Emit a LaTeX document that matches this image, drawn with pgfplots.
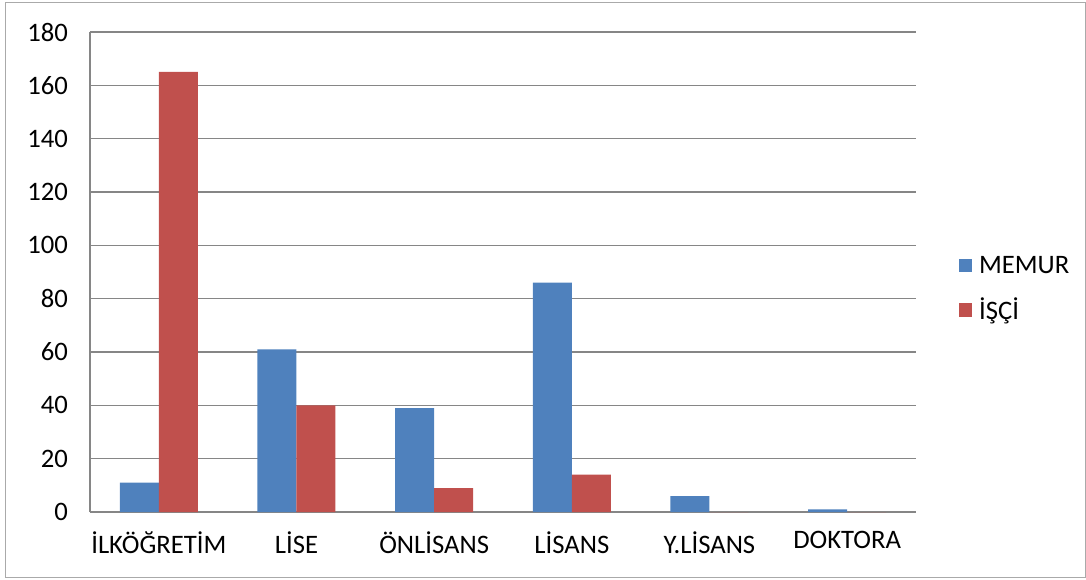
\documentclass[border=0pt]{standalone}
\usepackage{pgfplots}
\pgfplotsset{compat=1.18}
\usepackage{fontspec}
\setmainfont{Carlito}
\definecolor{memur}{HTML}{4F81BD}
\definecolor{isci}{HTML}{C0504D}
\definecolor{gridc}{HTML}{868686}
\begin{document}
\begin{tikzpicture}
\useasboundingbox (-67.5pt,-50.25pt) rectangle (747pt,384.0pt);
\draw[gridc!70, line width=0.75pt] (-63pt,-48.75pt) rectangle (746.25pt,381.75pt);
\begin{axis}[
  at={(0,0)}, anchor=south west,
  scale only axis, width=619.5pt, height=360pt,
  ybar=0pt, bar width=29.25pt,
  xmin=-0.5, xmax=5.5, ymin=0, ymax=180,
  ytick={0,20,...,180},
  xtick=data,
  xticklabels={İLKÖĞRETİM,LİSE,ÖNLİSANS,LİSANS,Y.LİSANS,DOKTORA},
  axis x line=bottom, axis y line=left,
  axis line style={draw=gridc, line width=0.9pt, -},
  ymajorgrids, grid style={draw=gridc, line width=0.9pt},
  major tick length=0pt,
  /pgf/number format/assume math mode=true,
  tick label style={font=\fontsize{20}{23}\selectfont},
  yticklabel style={xshift=-13pt},
  xticklabel style={yshift=-11pt},
  legend style={draw=none, fill=none, at={(1.047,0.4646)}, anchor=west,
    font=\fontsize{20}{23}\selectfont, row sep=13pt, column sep=3pt,
    legend cell align=left},
  legend image code/.code={\fill[#1] (0pt,-5pt) rectangle (10pt,5pt);},
]
\addplot[fill=memur, draw=none] coordinates {(0,11) (1,61) (2,39) (3,86) (4,6) (5,1)};
\addplot[fill=isci, draw=none] coordinates {(0,165) (1,40) (2,9) (3,14) (4,0) (5,0)};
\legend{MEMUR,İŞÇİ}
\end{axis}
\end{tikzpicture}
\end{document}
